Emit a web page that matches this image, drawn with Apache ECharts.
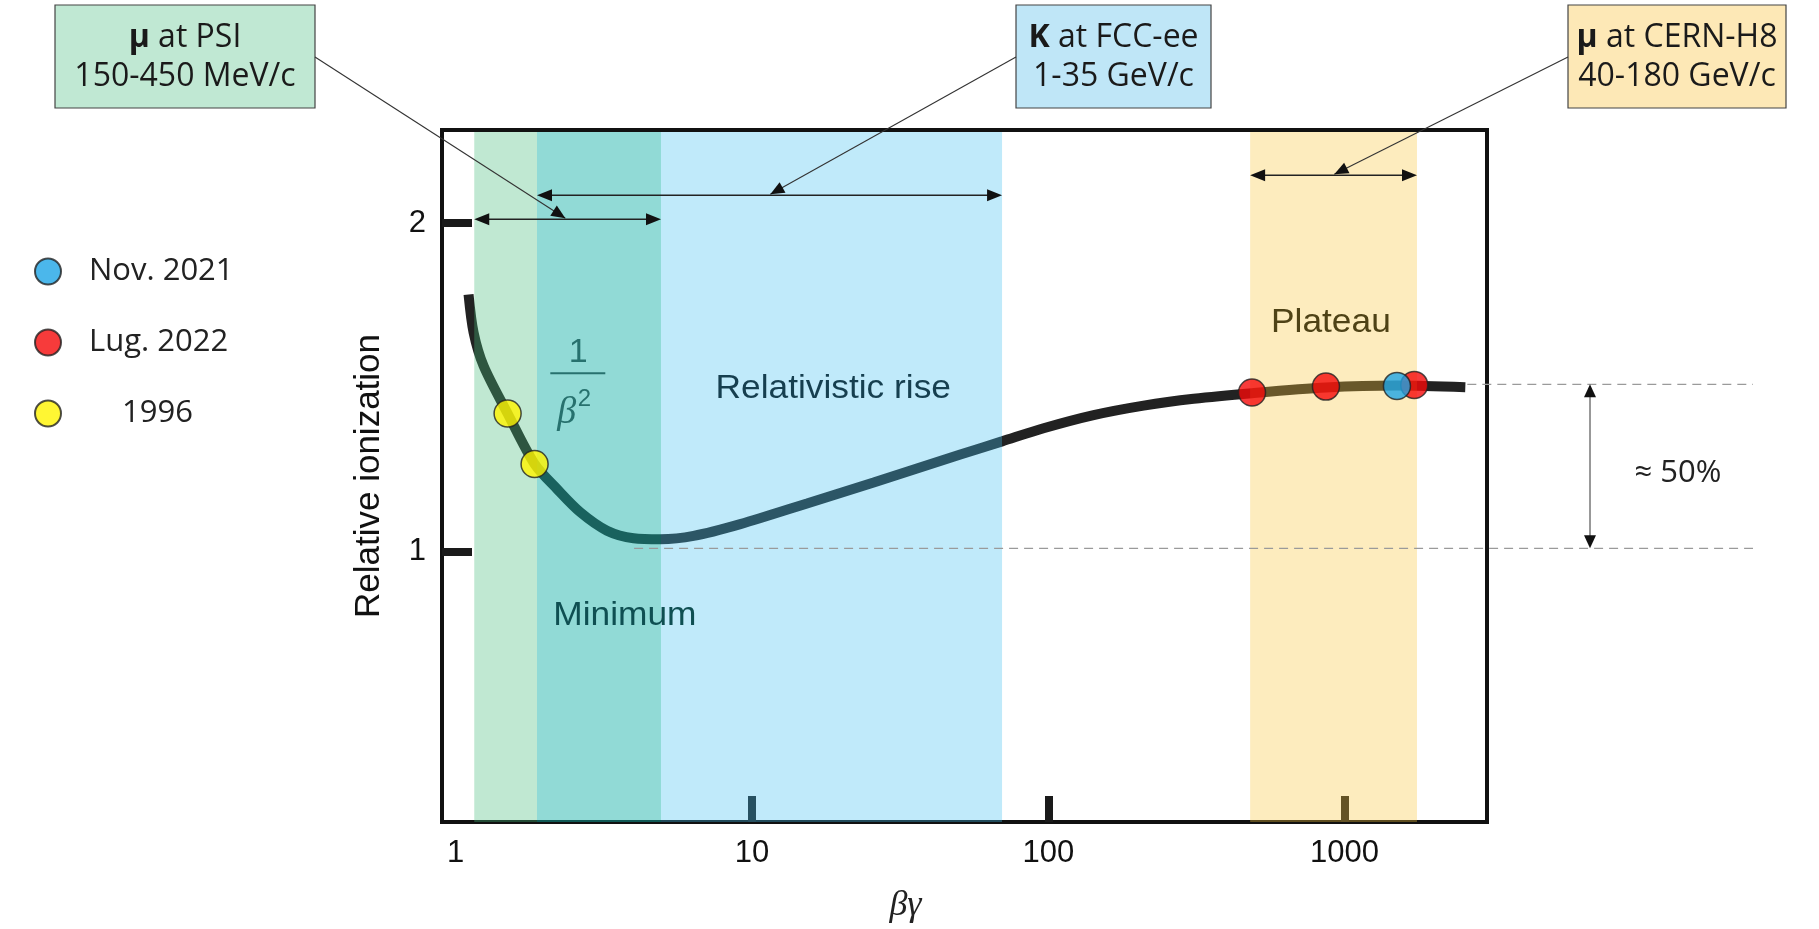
<!DOCTYPE html>
<html>
<head>
<meta charset="utf-8">
<script src="https://cdn.jsdelivr.net/npm/echarts@6/dist/echarts.min.js"></script>
<style>html,body{margin:0;padding:0;background:#fff}#c{width:1819px;height:929px}</style>
</head>
<body>
<div id="c"></div>
<script>
// ---------------- data ----------------
const curveX = [1.105, 1.149, 1.242, 1.497, 1.846, 2.198, 2.634, 3.241, 3.985, 4.904, 6.353, 9.13, 15.33, 25.73, 50.47, 69.8, 96.4, 142.2, 209.7, 309.3, 487, 865, 1502, 2555];
const curveY = [1.783, 1.667, 1.565, 1.420, 1.266, 1.190, 1.119, 1.063, 1.040, 1.037, 1.047, 1.083, 1.146, 1.210, 1.295, 1.335, 1.375, 1.415, 1.444, 1.465, 1.482, 1.499, 1.505, 1.500];
const nov2021 = [[1502, 1.504]];
const lug2022 = [[487, 1.484], [865, 1.502], [1718, 1.507]];
const y1996 = [[1.497, 1.420], [1.846, 1.266]];
const seriesNames = ['Nov. 2021', 'Lug. 2022', '1996'];
const beamParticle = ['μ', 'K', 'μ'];
const beamSite = [' at PSI', ' at FCC-ee', ' at CERN-H8'];
const beamMomenta = ['150-450 MeV/c', '1-35 GeV/c', '40-180 GeV/c'];
const bandRanges = [[1.155, 4.93], [1.881, 69.8], [480, 1755]];
const arrowY = [2.012, 2.085, 2.146];
const leaderTipX = [2.344, 11.53, 923];
const xTickLabels = [1, 10, 100, 1000];
const xTickMarks = [10, 100, 1000];
const yTickValues = [1, 2];
const plateauLevel = 1.509;
const minimumLevel = 1.009;
const minimumStartX = 4.0;
const regionLabels = ['Relativistic rise', 'Minimum', 'Plateau'];
const regionLabelPos = [[18.8, 1.494], [3.724, 0.803], [899, 1.6965]];
const betaLabelPos = {one: [2.593, 1.5945], bar: [2.086, 3.198, 1.5428], beta: [2.37, 1.427], sq: [2.72, 1.462]};

// ---------------- chart ----------------
const chart = echarts.init(document.getElementById('c'), null, {renderer: 'canvas'});
const SANS = 'Liberation Sans';
const CAL = 'Open Sans';
// colours: PSI only, PSI+FCC overlap, FCC only, CERN-H8 (translucent overlays)
const bandColors = {psi: 'rgba(70,187,123,0.34)', both: 'rgba(16,175,166,0.46)', fcc: 'rgba(66,191,239,0.335)', h8: 'rgba(248,197,60,0.335)'};
const psi = bandRanges[0], fcc = bandRanges[1], h8 = bandRanges[2];
const bandSegments = [
  [psi[0], fcc[0], 'psi'],
  [fcc[0], psi[1], 'both'],
  [psi[1], fcc[1], 'fcc'],
  [h8[0], h8[1], 'h8']
];

const option = {
  animation: false,
  backgroundColor: '#ffffff',
  grid: {left: 442, right: 332, top: 130, bottom: 107, show: true, borderColor: '#111', borderWidth: 4, backgroundColor: 'transparent'},
  legend: {
    orient: 'vertical', left: 29, top: 251, itemWidth: 26, itemHeight: 26, itemGap: 40,
    icon: 'circle', selectedMode: false,
    textStyle: {fontFamily: CAL, fontSize: 31, color: '#222', padding: [0, 0, 0, 23], lineHeight: 26},
    data: [{name: seriesNames[0]}, {name: seriesNames[1]}, {name: seriesNames[2], textStyle: {padding: [0, 0, 0, 56]}}]
  },
  xAxis: {
    type: 'log', logBase: 10, min: 0.899, max: 3024,
    axisLine: {show: false}, splitLine: {show: false}, minorTick: {show: false},
    axisTick: {show: true, inside: true, length: 26, customValues: xTickMarks, lineStyle: {color: '#1a1a1a', width: 8}},
    axisLabel: {customValues: xTickLabels, margin: 16, fontFamily: SANS, fontSize: 31, color: '#111', formatter: v => String(Math.round(v))},
    name: 'βγ', nameLocation: 'middle', nameGap: 66,
    nameTextStyle: {fontFamily: 'Liberation Serif', fontStyle: 'italic', fontSize: 36, color: '#222', padding: [0, 118, 0, 0]}
  },
  yAxis: {
    type: 'value', min: 0.175, max: 2.284,
    axisLine: {show: false}, splitLine: {show: false},
    axisTick: {show: true, inside: true, length: 30, customValues: yTickValues, lineStyle: {color: '#1a1a1a', width: 8}},
    axisLabel: {customValues: yTickValues, margin: 16, fontFamily: SANS, fontSize: 31, color: '#111'},
    name: 'Relative ionization', nameLocation: 'middle', nameRotate: 90, nameGap: 55,
    nameTextStyle: {fontFamily: SANS, fontSize: 35, color: '#111'}
  },
  series: [
    {
      name: 'curve', type: 'line', z: 2, smooth: 0.3, symbol: 'none', silent: true,
      data: curveX.map((x, i) => [x, curveY[i]]),
      lineStyle: {color: '#222', width: 10, cap: 'butt'}
    },
    {
      name: 'bands', type: 'custom', z: 3, silent: true,
      data: bandSegments.map(s => [s[0], s[1]]),
      renderItem: (params, api) => {
        const cs = params.coordSys;
        const a = api.coord([api.value(0), 1]);
        const b = api.coord([api.value(1), 1]);
        return {type: 'rect', shape: {x: a[0], y: cs.y + 2, width: b[0] - a[0], height: cs.height - 2},
                style: {fill: bandColors[bandSegments[params.dataIndex][2]]}};
      }
    },
    {name: seriesNames[1], type: 'scatter', z: 5, data: lug2022, symbolSize: 27,
     itemStyle: {color: '#f50a0a', borderColor: '#222', borderWidth: 1.5}},
    {name: seriesNames[0], type: 'scatter', z: 6, data: nov2021, symbolSize: 27,
     itemStyle: {color: '#1ea5e6', borderColor: '#222', borderWidth: 1.5}},
    {name: seriesNames[2], type: 'scatter', z: 5, data: y1996, symbolSize: 27,
     itemStyle: {color: '#fff400', borderColor: '#222', borderWidth: 1.5}}
  ]
};
chart.setOption(option);

// ---------------- annotations ----------------
const P = (x, y) => chart.convertToPixel({gridIndex: 0}, [x, y]);
function head(tip, from, len, hw, color) {
  const dx = tip[0] - from[0], dy = tip[1] - from[1];
  const d = Math.hypot(dx, dy) || 1, ux = dx / d, uy = dy / d;
  const bx = tip[0] - ux * len, by = tip[1] - uy * len;
  return {type: 'polygon', z: 100, silent: true,
          shape: {points: [[tip[0], tip[1]], [bx - uy * hw, by + ux * hw], [bx + uy * hw, by - ux * hw]]},
          style: {fill: color || '#111'}};
}
function line(p, q, style) {
  return {type: 'line', z: 100, silent: true, shape: {x1: p[0], y1: p[1], x2: q[0], y2: q[1]}, style: style};
}
function txt(x, y, text, s, extra) {
  return Object.assign({type: 'text', z: 100, silent: true, x: x, y: y,
          style: Object.assign({text: text, align: 'center', verticalAlign: 'middle'}, s)}, extra || {});
}

const g = [];
const boxLayout = [
  {x: 55, y: 5, w: 260, h: 103, fill: '#c0e8d3', side: 'right'},
  {x: 1016, y: 5, w: 195, h: 103, fill: '#bfe6f7', side: 'left'},
  {x: 1568, y: 5, w: 218, h: 103, fill: '#fde8b6', side: 'left'}
];
boxLayout.forEach((b, i) => {
  g.push({type: 'rect', z: 100, silent: true, shape: {x: b.x, y: b.y, width: b.w, height: b.h},
          style: {fill: b.fill, stroke: '#444', lineWidth: 1.2}});
  g.push(txt(b.x + b.w / 2, b.y + b.h / 2 + 1, '{b|' + beamParticle[i] + '}' + beamSite[i] + '\n' + beamMomenta[i], {
    fontFamily: CAL, fontSize: 32, fill: '#1a1a1a', lineHeight: 39,
    rich: {b: {fontFamily: CAL, fontSize: 32, fontWeight: 'bold', fill: '#1a1a1a', lineHeight: 39}}
  }));
  // in-plot double arrow over the band range
  const a = P(bandRanges[i][0], arrowY[i]);
  const c = P(bandRanges[i][1], arrowY[i]);
  g.push(line([a[0] + 8, a[1]], [c[0] - 8, c[1]], {stroke: '#222', lineWidth: 1.6}));
  g.push(head(a, c, 15, 6));
  g.push(head(c, a, 15, 6));
  // leader line from box to arrow
  const start = b.side === 'right' ? [b.x + b.w, b.y + 52] : [b.x, b.y + 52];
  const tip = P(leaderTipX[i], arrowY[i]);
  const tip2 = [tip[0], tip[1] - 1];
  g.push(line(start, tip2, {stroke: '#333', lineWidth: 1.1}));
  g.push(head(tip2, start, 14, 6));
});

// reference levels (dashed) and ≈50% arrow
const DASH_END = 1753;
const lowA = P(minimumStartX, minimumLevel);
g.push(line(lowA, [DASH_END, lowA[1]], {stroke: '#9a9a9a', lineWidth: 1.2, lineDash: [9, 6]}));
const upA = P(curveX[curveX.length - 1], plateauLevel);
g.push(line([upA[0] + 2, upA[1]], [DASH_END, upA[1]], {stroke: '#9a9a9a', lineWidth: 1.2, lineDash: [9, 6]}));
const VX = 1590;
g.push(line([VX, upA[1] + 10], [VX, lowA[1] - 10], {stroke: '#333', lineWidth: 1}));
g.push(head([VX, upA[1]], [VX, lowA[1]], 13, 6));
g.push(head([VX, lowA[1]], [VX, upA[1]], 13, 6));
g.push(txt(1678, (upA[1] + lowA[1]) / 2 + 7, '≈ 50%', {fontFamily: CAL, fontSize: 31, fill: '#222'}));

// region labels
const regionColors = ['#163f4f', '#0f4f52', '#4e4216'];
regionLabels.forEach((t, i) => {
  const p = P(regionLabelPos[i][0], regionLabelPos[i][1]);
  g.push(txt(p[0], p[1], t, {fontFamily: SANS, fontSize: 33, fill: regionColors[i]}, {scaleX: 1.07}));
});
const bc = '#27716e';
const p1 = P(betaLabelPos.one[0], betaLabelPos.one[1]);
g.push(txt(p1[0], p1[1] - 4, '1', {fontFamily: SANS, fontSize: 34, fill: bc}));
const pb1 = P(betaLabelPos.bar[0], betaLabelPos.bar[2]);
const pb2 = P(betaLabelPos.bar[1], betaLabelPos.bar[2]);
g.push(line(pb1, pb2, {stroke: bc, lineWidth: 2}));
const pbeta = P(betaLabelPos.beta[0], betaLabelPos.beta[1]);
g.push(txt(pbeta[0], pbeta[1] + 2, 'β', {fontFamily: 'Liberation Serif', fontStyle: 'italic', fontSize: 38, fill: bc}));
const psq = P(betaLabelPos.sq[0], betaLabelPos.sq[1]);
g.push(txt(psq[0], psq[1], '2', {fontFamily: SANS, fontSize: 24, fill: bc}));

chart.setOption({graphic: {elements: g}});
</script>
</body>
</html>
